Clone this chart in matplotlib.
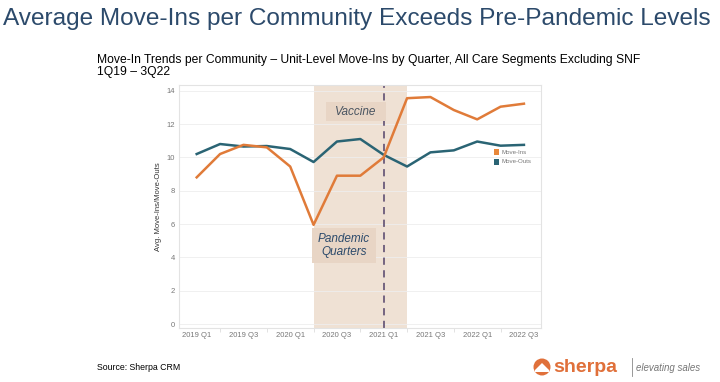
import matplotlib
matplotlib.use("Agg")
import matplotlib.pyplot as plt
from matplotlib.patches import Rectangle, Circle, Polygon

plt.rcParams['font.family'] = ['Liberation Sans', 'DejaVu Sans']

quarters = ["2019 Q1", "2019 Q2", "2019 Q3", "2019 Q4", "2020 Q1", "2020 Q2", "2020 Q3",
            "2020 Q4", "2021 Q1", "2021 Q2", "2021 Q3", "2021 Q4", "2022 Q1", "2022 Q2", "2022 Q3"]
move_ins = [8.8, 10.2, 10.75, 10.6, 9.45, 5.95, 8.9, 8.9, 10.0, 13.55, 13.62, 12.84, 12.28, 13.04, 13.22]
move_outs = [10.2, 10.8, 10.65, 10.68, 10.5, 9.72, 10.95, 11.1, 10.15, 9.45, 10.3, 10.42, 10.95, 10.7, 10.75]
yticks = [0, 2, 4, 6, 8, 10, 12, 14]

ORANGE = "#e07b39"
TEAL = "#2a6474"
TITLE_C = "#2c4a6b"

fig = plt.figure(figsize=(7.2, 3.82), dpi=100)
fig.patch.set_facecolor("white")

ax = fig.add_axes([179/720, 1-328/382, (541-179)/720, (328-84.7)/382])
x = list(range(len(quarters)))

ax.axvspan(5, 9, color="#efe1d4", zorder=0, lw=0)
ax.axvline(8, color="#6b5a7a", ls=(0, (4, 3)), lw=1.3, zorder=1)

ax.plot(x, move_outs, color=TEAL, lw=1.8, zorder=3, solid_joinstyle="round")
ax.plot(x, move_ins, color=ORANGE, lw=1.8, zorder=4, solid_joinstyle="round")

ax.set_xlim(-0.757, 14.73)
ax.set_ylim(-0.24, 14.36)
ax.set_yticks(yticks)
ax.set_yticklabels([str(v) for v in yticks])
ax.set_xticks(x[::2])
ax.set_xticklabels(quarters[::2])
ax.set_xticks([i + 1 for i in x[::2][:-1]], minor=True)
ax.tick_params(axis="both", labelsize=5.5, labelcolor="#777777", length=0, pad=3)
ax.tick_params(axis="x", which="minor", length=3, color="#dddddd")
ax.grid(axis="y", color="#eeeeee", lw=0.6)
ax.set_axisbelow(True)
for s in ax.spines.values():
    s.set_color("#e3e3e3")
    s.set_linewidth(0.8)
ax.set_ylabel("Avg. Move-Ins/Move-Outs", fontsize=5.5, color="#333333", labelpad=3)

# annotations
ax.add_patch(Rectangle((5.55, 12.2), 2.55, 1.15, facecolor="#e8d5c5", edgecolor="none", zorder=2))
ax.text(6.8, 12.75, "Vaccine", fontsize=8.5, style="italic", color="#4a5561",
        ha="center", va="center", zorder=5)
ax.add_patch(Rectangle((4.95, 3.65), 2.7, 2.1, facecolor="#e8d5c5", edgecolor="none", zorder=2))
ax.text(6.3, 4.7, "Pandemic\nQuarters", fontsize=8.5, style="italic", color=TITLE_C,
        ha="center", va="center", zorder=5, linespacing=1.1)

# legend
for yy, c, lab in [(10.3, "#e8873a", "Move-Ins"), (9.75, TEAL, "Move-Outs")]:
    ax.add_patch(Rectangle((12.7, yy - 0.18), 0.25, 0.36, facecolor=c, edgecolor="none", zorder=5))
    ax.text(13.05, yy, lab, fontsize=4.4, color="#777777", va="center", ha="left", zorder=5)

# titles
fig.text(3/720, 1-19/382, "Average Move-Ins per Community Exceeds Pre-Pandemic Levels",
         fontsize=17.6, color=TITLE_C, va="center", ha="left")
fig.text(97/720, 1-59.5/382, "Move-In Trends per Community \u2013 Unit-Level Move-Ins by Quarter, All Care Segments Excluding SNF",
         fontsize=8.7, color="black", va="center", ha="left")
fig.text(97/720, 1-72.5/382, "1Q19 \u2013 3Q22", fontsize=8.7, color="black", va="center", ha="left")
fig.text(97/720, 1-368/382, "Source: Sherpa CRM", fontsize=6.3, color="black", va="center", ha="left")

# logo
lax = fig.add_axes([530/720, 0, 190/720, 30/382])
lax.set_xlim(0, 190)
lax.set_ylim(0, 30)
lax.axis("off")
lax.add_patch(Circle((12, 15), 8.5, facecolor="#e0703a", edgecolor="none"))
lax.add_patch(Polygon([[5, 12], [12, 19], [19, 12], [19, 10], [5, 10]], closed=True,
                      facecolor="white", edgecolor="none"))
lax.text(23, 15, "sherpa", fontsize=14, fontweight="bold", color="#e0703a", va="center", ha="left")
lax.plot([102, 102], [6, 24], color="#888888", lw=0.6)
lax.text(106, 14, "elevating sales", fontsize=7, style="italic", color="#777777", va="center", ha="left")

fig.savefig("out.png", dpi=100)
